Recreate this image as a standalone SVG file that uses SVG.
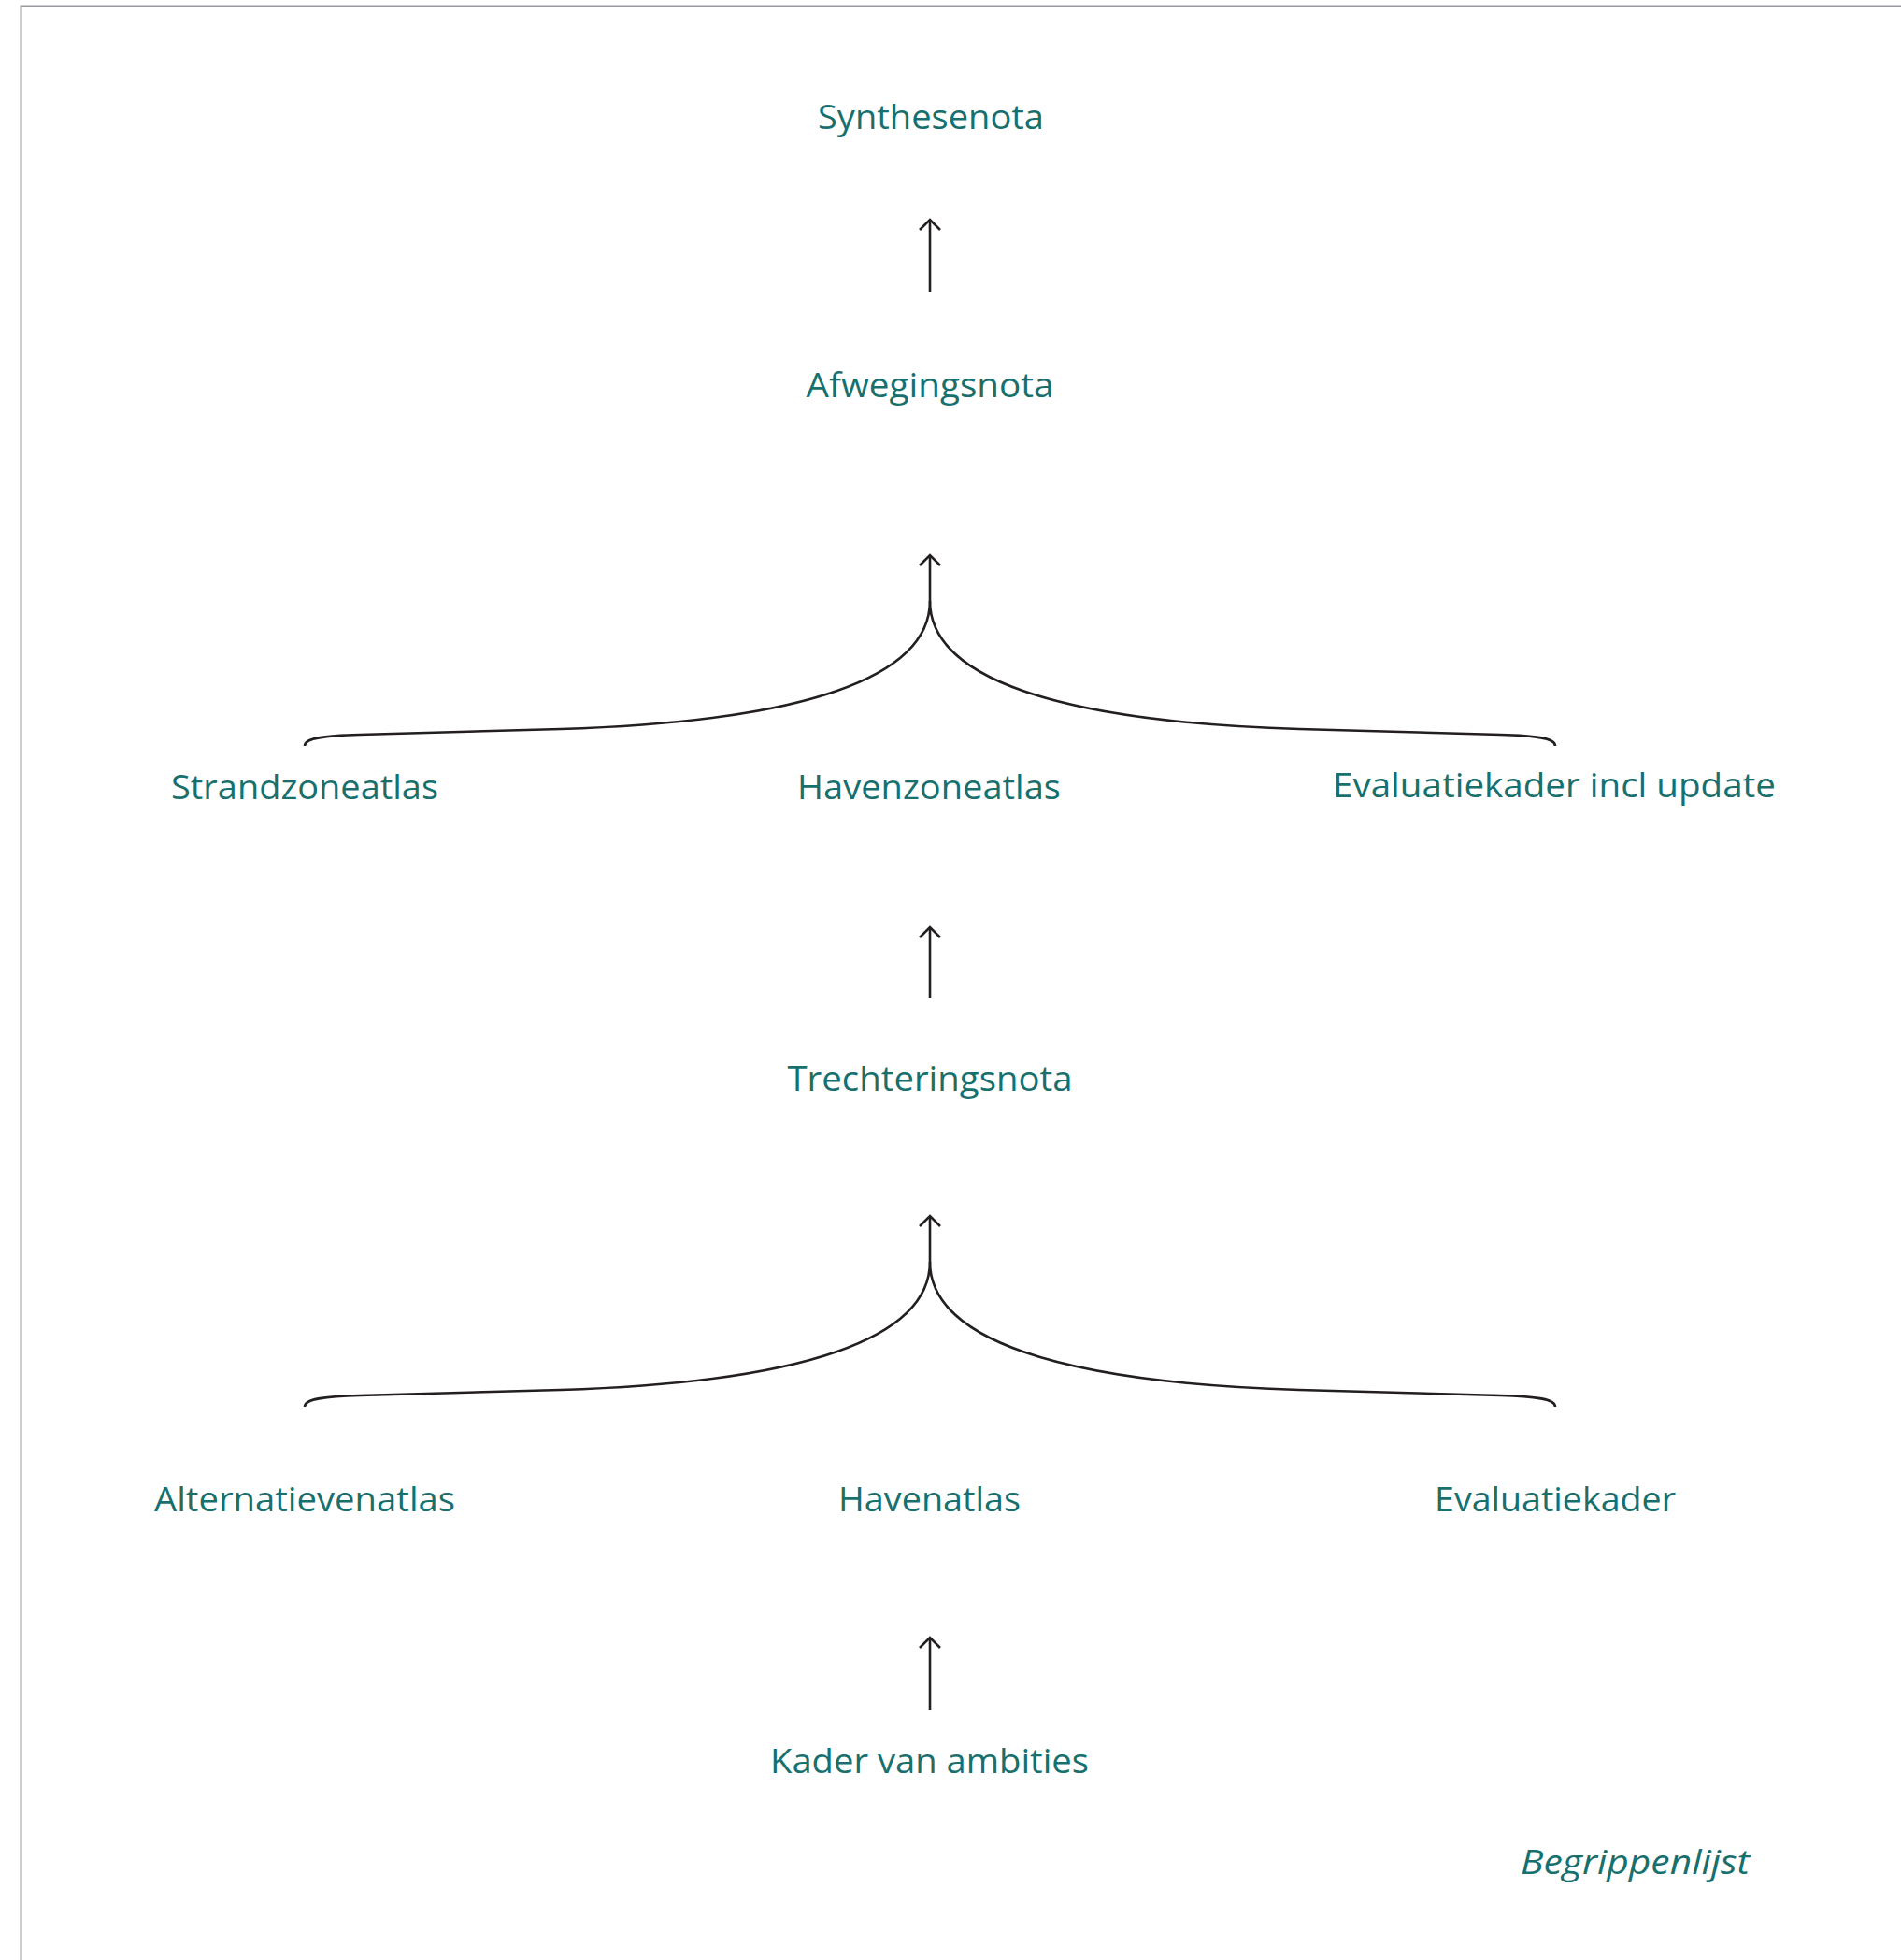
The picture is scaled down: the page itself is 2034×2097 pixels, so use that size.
<svg xmlns="http://www.w3.org/2000/svg" width="2034" height="2097" viewBox="0 0 2034 2097">
<style>
.lbl{font-family:"Open Sans","Liberation Sans",sans-serif;font-size:37px;fill:#17706e;text-anchor:middle}
.it{font-style:italic}
.con{fill:none;stroke:#231f20;stroke-width:2.6;stroke-linecap:butt}
.head{fill:none;stroke:#231f20;stroke-width:2.6;stroke-linejoin:miter}
.frame{fill:none;stroke:#9a9a9e;stroke-width:2}
</style>
<rect width="2034" height="2097" fill="#ffffff"/>
<path class="frame" d="M22.5,2097 V6.5 H2034"/>
<g id="n-synthesenota"><text class="lbl" x="996" y="138" textLength="242" lengthAdjust="spacingAndGlyphs">Synthesenota</text></g>
<g id="n-afwegingsnota"><text class="lbl" x="995" y="425" textLength="265" lengthAdjust="spacingAndGlyphs">Afwegingsnota</text></g>
<g id="n-strandzoneatlas"><text class="lbl" x="326" y="855" textLength="286" lengthAdjust="spacingAndGlyphs">Strandzoneatlas</text></g>
<g id="n-havenzoneatlas"><text class="lbl" x="994" y="855" textLength="282" lengthAdjust="spacingAndGlyphs">Havenzoneatlas</text></g>
<g id="n-evaluatiekader-update"><text class="lbl" x="1663" y="853" textLength="474" lengthAdjust="spacingAndGlyphs">Evaluatiekader incl update</text></g>
<g id="n-trechteringsnota"><text class="lbl" x="995" y="1167" textLength="305" lengthAdjust="spacingAndGlyphs">Trechteringsnota</text></g>
<g id="n-alternatievenatlas"><text class="lbl" x="326" y="1617" textLength="322" lengthAdjust="spacingAndGlyphs">Alternatievenatlas</text></g>
<g id="n-havenatlas"><text class="lbl" x="994.5" y="1617" textLength="195" lengthAdjust="spacingAndGlyphs">Havenatlas</text></g>
<g id="n-evaluatiekader"><text class="lbl" x="1664" y="1617" textLength="258" lengthAdjust="spacingAndGlyphs">Evaluatiekader</text></g>
<g id="n-kader"><text class="lbl" x="994.5" y="1897" textLength="341" lengthAdjust="spacingAndGlyphs">Kader van ambities</text></g>
<g id="n-begrippenlijst"><text class="lbl it" x="1749.5" y="2005" textLength="245" lengthAdjust="spacingAndGlyphs">Begrippenlijst</text></g>
<g id="connectors">
<line class="con" x1="995" y1="312" x2="995" y2="235"/>
<path class="head" d="M984,246 L995,235 L1006,246"/>
<path class="con" d="M995,594 V643 C995,725 860,772 600,780 L385,786 C345,787 326,790 326,798"/>
<path class="con" d="M995,643 C995,725 1130,772 1390,780 L1605,786 C1645,787 1664,790 1664,798"/>
<path class="head" d="M984,605 L995,594 L1006,605"/>
<line class="con" x1="995" y1="1068" x2="995" y2="992"/>
<path class="head" d="M984,1003 L995,992 L1006,1003"/>
<path class="con" d="M995,1301 V1350 C995,1432 860,1479 600,1487 L385,1493 C345,1494 326,1497 326,1505"/>
<path class="con" d="M995,1350 C995,1432 1130,1479 1390,1487 L1605,1493 C1645,1494 1664,1497 1664,1505"/>
<path class="head" d="M984,1312 L995,1301 L1006,1312"/>
<line class="con" x1="995" y1="1829" x2="995" y2="1752"/>
<path class="head" d="M984,1763 L995,1752 L1006,1763"/>
</g>
</svg>
